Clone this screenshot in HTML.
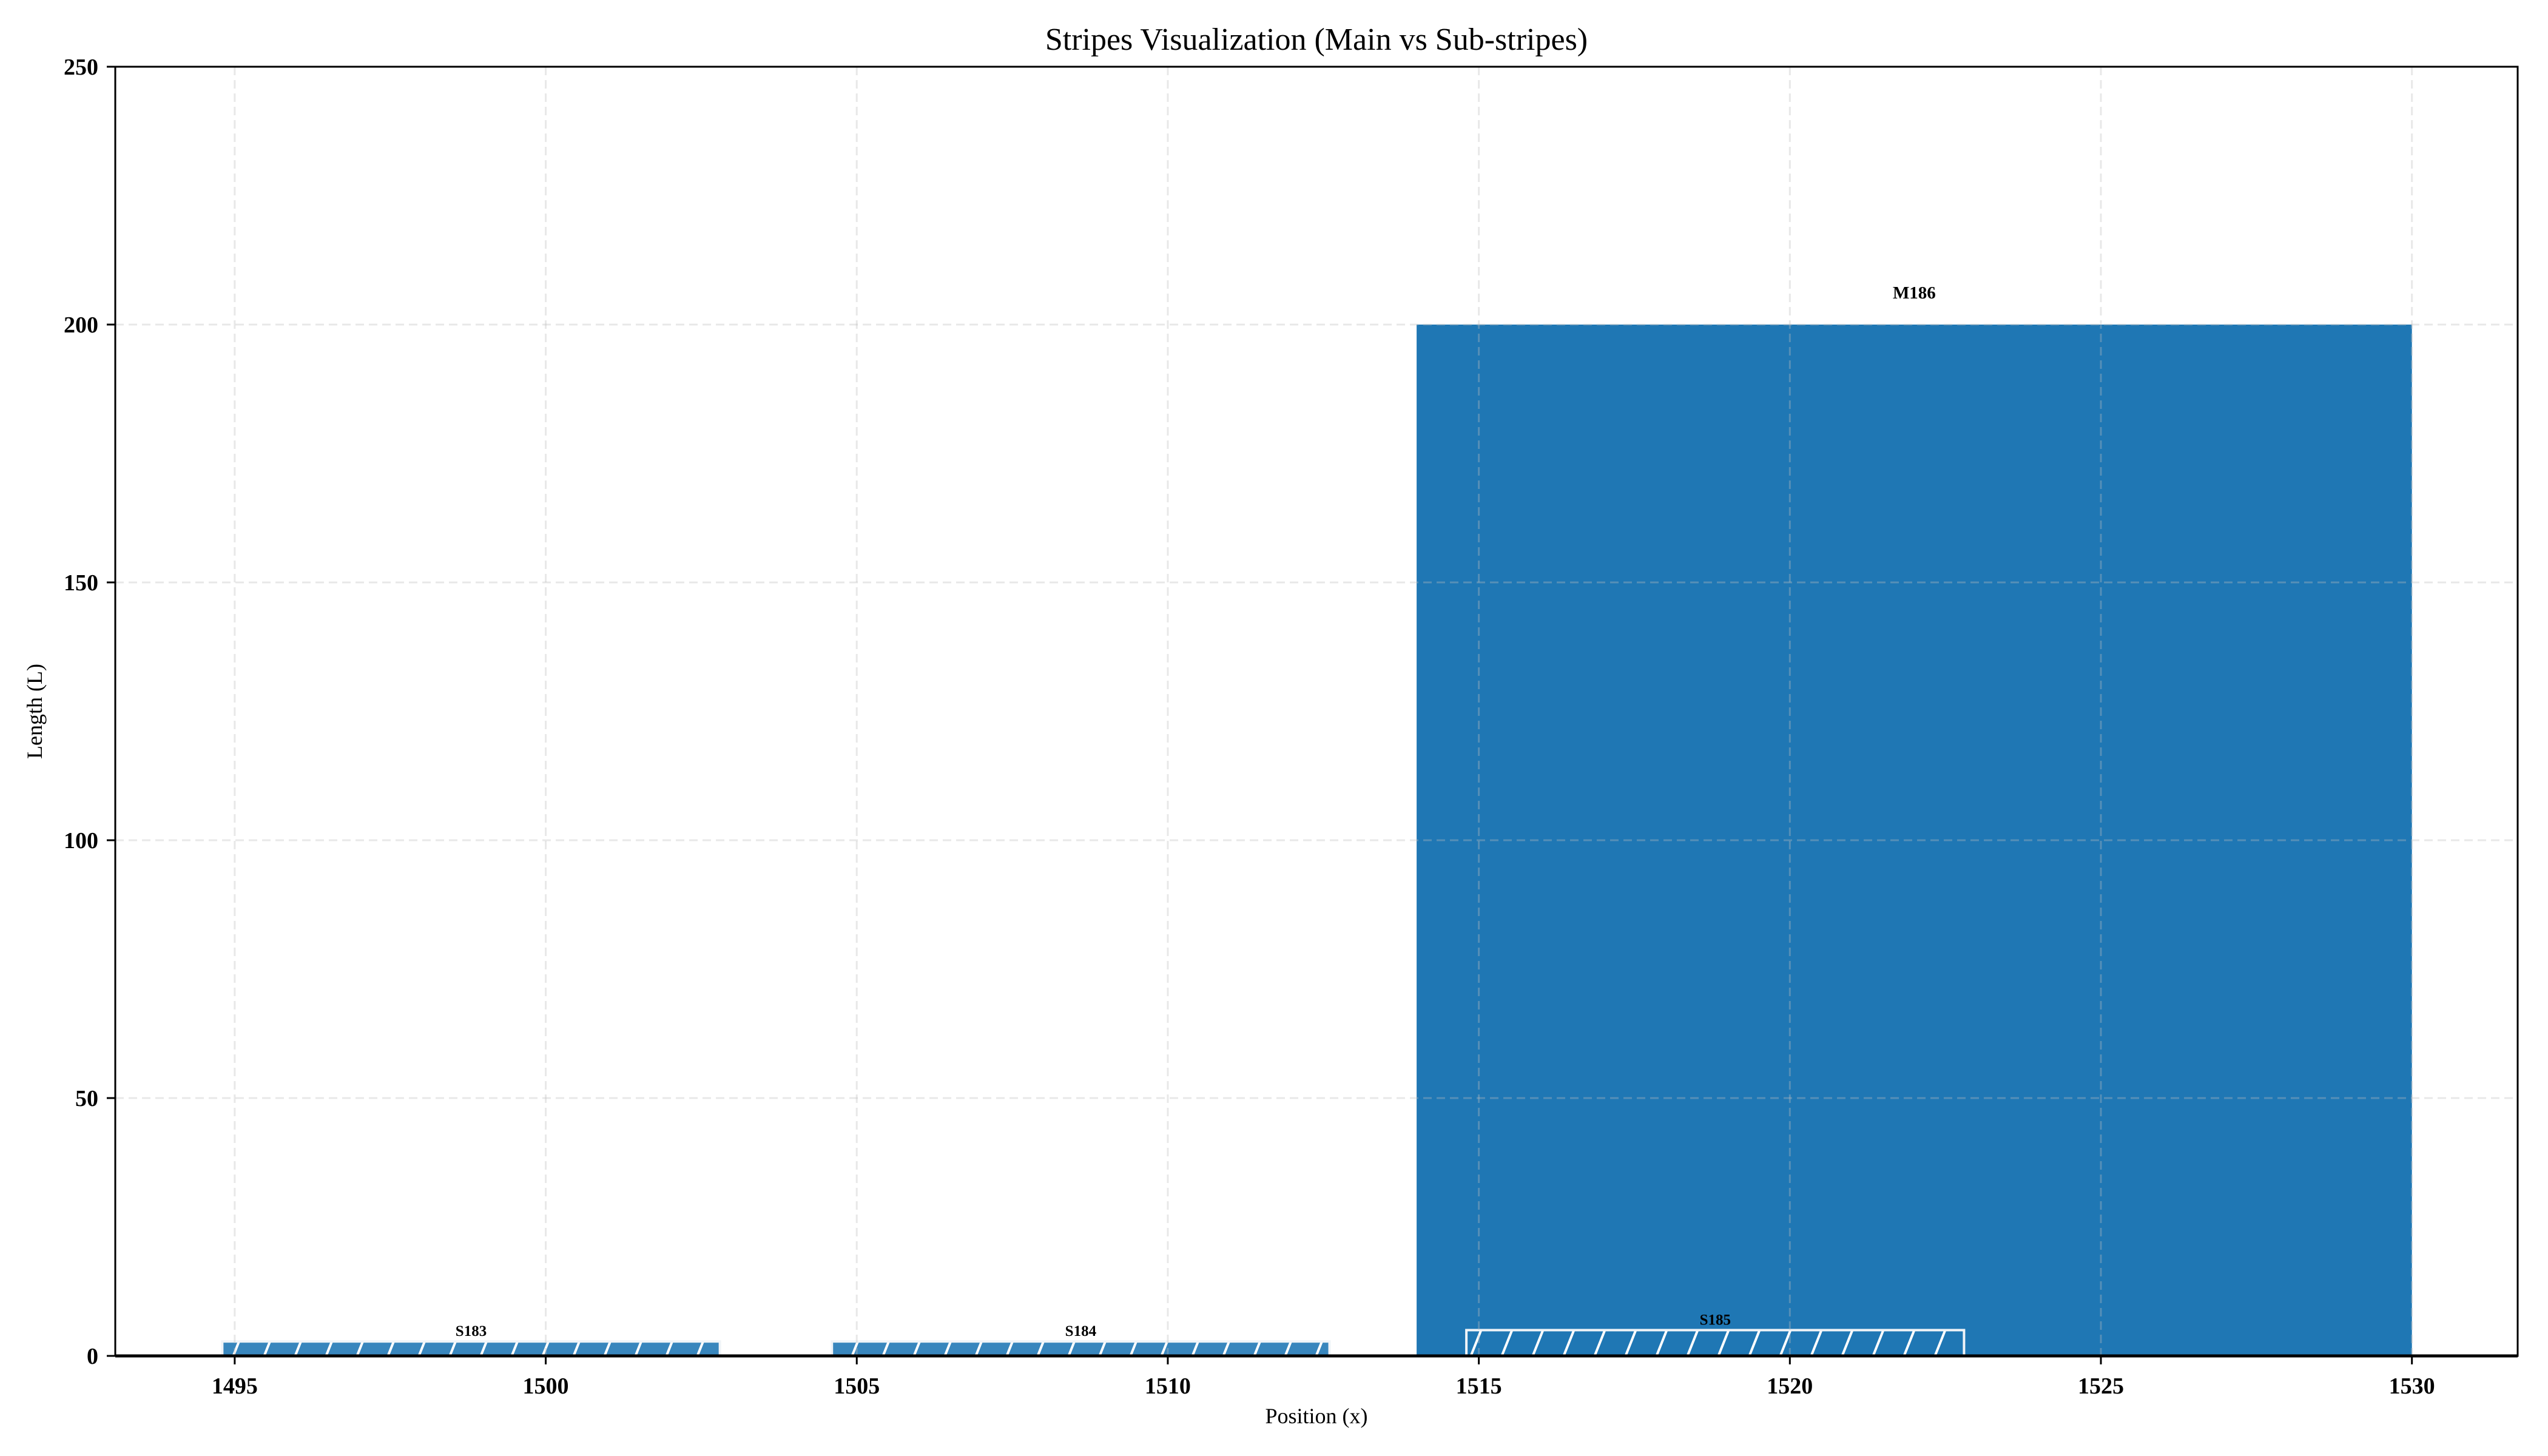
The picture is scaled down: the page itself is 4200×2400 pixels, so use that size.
<!DOCTYPE html>
<html><head><meta charset="utf-8"><style>
html,body{margin:0;padding:0;background:#fff;}
svg{display:block;font-family:"Liberation Serif","DejaVu Serif",serif;}
</style></head><body>
<svg id="chart" width="4200" height="2400" viewBox="0 0 4200 2400" xmlns="http://www.w3.org/2000/svg">
<defs>
<pattern id="hatch" patternUnits="userSpaceOnUse" width="51" height="128" x="0" y="0">
<line x1="-51" y1="128" x2="0" y2="0" stroke="#fff" stroke-width="4"/>
<line x1="0" y1="128" x2="51" y2="0" stroke="#fff" stroke-width="4"/>
<line x1="51" y1="128" x2="102" y2="0" stroke="#fff" stroke-width="4"/>
</pattern>
</defs>
<g id="plot"></g>
</svg>
<script>
const barLabels = ["S183", "S184", "S185", "M186"];
const barStarts = [1494.8, 1504.6, 1514.8, 1514.0];
const barWidths = [8.0, 8.0, 8.0, 16.0];
const barHeights = [2.8, 2.8, 5, 200];
const barIsMain = [false, false, false, true];
const xTicks = [1495, 1500, 1505, 1510, 1515, 1520, 1525, 1530];
const yTicks = [0, 50, 100, 150, 200, 250];

const L = 190, R = 4150, T = 110, B = 2235;
const xMin = 1493.08, xMax = 1531.7, yMin = 0, yMax = 250;
const xs = v => L + (v - xMin) / (xMax - xMin) * (R - L);
const ys = v => B - (v - yMin) / (yMax - yMin) * (B - T);
const NS = "http://www.w3.org/2000/svg";
const g = document.getElementById('plot');
function mk(tag, attrs, parent) {
  const e = document.createElementNS(NS, tag);
  for (const k in attrs) e.setAttribute(k, attrs[k]);
  (parent || g).appendChild(e);
  return e;
}

const order = [3, 0, 1, 2];
order.forEach(i => {
  const x0 = xs(barStarts[i]), x1 = xs(barStarts[i] + barWidths[i]);
  const y0 = ys(barHeights[i]), y1 = ys(0);
  if (barIsMain[i]) {
    const r = mk('rect', {x: x0, y: y0, width: x1 - x0, height: y1 - y0, fill: '#1f77b4'});
    
    
  } else {
    const r = mk('rect', {x: x0, y: y0, width: x1 - x0, height: y1 - y0, fill: i === 2 ? '#1f77b4' : '#3886bd'});
    
    
    const h = mk('rect', {x: x0, y: y0, width: x1 - x0, height: y1 - y0, fill: 'url(#hatch)', stroke: '#f0f4f8', 'stroke-width': 4});
    
    
  }
});

xTicks.forEach(t => {
  const l = mk('line', {x1: xs(t), x2: xs(t), y1: T, y2: B, stroke: 'rgba(190,190,190,0.35)', 'stroke-width': 3, 'stroke-dasharray': '14 8'});
  
  
});
yTicks.forEach(t => {
  const l = mk('line', {x1: L, x2: R, y1: ys(t), y2: ys(t), stroke: 'rgba(190,190,190,0.35)', 'stroke-width': 3, 'stroke-dasharray': '14 8'});
  
  
});

barLabels.forEach((lab, i) => {
  const cx = xs(barStarts[i] + barWidths[i] / 2);
  const off = barIsMain[i] ? 6 : 2;
  const t = mk('text', {x: cx, y: ys(barHeights[i] + off) + 8, 'text-anchor': 'middle', 'font-size': barIsMain[i] ? 29 : 25, 'font-weight': 'bold', fill: '#000'});
  t.textContent = lab;
  
  
});

const sp = mk('rect', {x: L, y: T, width: R - L, height: B - T, fill: 'none', stroke: '#000', 'stroke-width': 3});


const bs = mk('line', {x1: L, x2: R, y1: B, y2: B, stroke: '#000', 'stroke-width': 5});



xTicks.forEach(t => {
  const tk = mk('line', {x1: xs(t), x2: xs(t), y1: B, y2: B + 14, stroke: '#000', 'stroke-width': 3});
  
  
  const tl = mk('text', {x: xs(t), y: B + 62, 'text-anchor': 'middle', 'font-size': 38, 'font-weight': 'bold'});
  tl.textContent = t;
  
  
});
yTicks.forEach(t => {
  const tk = mk('line', {x1: L - 14, x2: L, y1: ys(t), y2: ys(t), stroke: '#000', 'stroke-width': 3});
  
  
  const tl = mk('text', {x: L - 28, y: ys(t) + 13, 'text-anchor': 'end', 'font-size': 38, 'font-weight': 'bold'});
  tl.textContent = t;
  
  
});

const title = mk('text', {x: (L + R) / 2, y: 82, 'text-anchor': 'middle', 'font-size': 52});
title.textContent = 'Stripes Visualization (Main vs Sub-stripes)';


const xl = mk('text', {x: (L + R) / 2, y: 2346, 'text-anchor': 'middle', 'font-size': 36});
xl.textContent = 'Position (x)';


const yl = mk('text', {x: 0, y: 0, 'text-anchor': 'middle', 'font-size': 36, transform: 'translate(69,' + ((T + B) / 2) + ') rotate(-90)'});
yl.textContent = 'Length (L)';


</script>
</body></html>
